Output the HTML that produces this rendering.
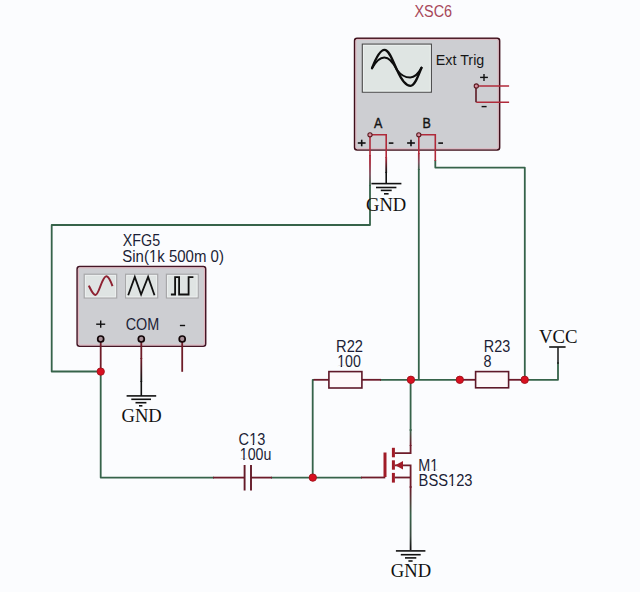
<!DOCTYPE html>
<html><head><meta charset="utf-8">
<style>
html,body{margin:0;padding:0;background:#fbfcfe;}
body{width:640px;height:592px;overflow:hidden;}
svg{display:block;}
.sans{font-family:"Liberation Sans",sans-serif;}
.serif{font-family:"Liberation Serif",serif;}
</style></head><body>
<svg width="640" height="592" viewBox="0 0 640 592">
<rect x="0" y="0" width="640" height="592" fill="#fbfcfe"/>

<defs>
  <linearGradient id="gA" gradientUnits="userSpaceOnUse" x1="0" y1="162" x2="0" y2="186">
    <stop offset="0" stop-color="#a8283a"/><stop offset="0.5" stop-color="#805060"/><stop offset="1" stop-color="#36634a"/>
  </linearGradient>
  <linearGradient id="gB" gradientUnits="userSpaceOnUse" x1="0" y1="154" x2="0" y2="170">
    <stop offset="0" stop-color="#a8283a"/><stop offset="0.5" stop-color="#805060"/><stop offset="1" stop-color="#36634a"/>
  </linearGradient>
  <linearGradient id="gAm" gradientUnits="userSpaceOnUse" x1="0" y1="158" x2="0" y2="172">
    <stop offset="0" stop-color="#a8283a"/><stop offset="1" stop-color="#151515"/>
  </linearGradient>
  <linearGradient id="gCOM" gradientUnits="userSpaceOnUse" x1="0" y1="360" x2="0" y2="380">
    <stop offset="0" stop-color="#6e1c28"/><stop offset="1" stop-color="#151515"/>
  </linearGradient>
  <linearGradient id="gD" gradientUnits="userSpaceOnUse" x1="0" y1="430" x2="0" y2="445">
    <stop offset="0" stop-color="#36634a"/><stop offset="1" stop-color="#6c1b2a"/>
  </linearGradient>
  <linearGradient id="gS" gradientUnits="userSpaceOnUse" x1="0" y1="488" x2="0" y2="548">
    <stop offset="0" stop-color="#6c1b2a"/><stop offset="0.45" stop-color="#36634a"/><stop offset="0.8" stop-color="#3a4a40"/><stop offset="1" stop-color="#151515"/>
  </linearGradient>
</defs>
<!-- ============ WIRES (green) ============ -->
<g fill="none" stroke="#36634a" stroke-width="1.8" stroke-linejoin="round">
  <polyline points="370,185 370,225 51.7,225 51.7,371.5 97,371.5"/>
  <polyline points="100.7,375 100.7,477.6 214,477.6"/>
  <polyline points="418.8,169 418.8,380"/>
  <polyline points="435.3,160 435.3,167.6 524.8,167.6 524.8,380"/>
  <polyline points="380,379.8 460,379.8"/>
  <polyline points="520,379.8 558,379.8 558,362"/>
  <polyline points="314,379.8 312.7,379.8 312.7,477.6"/>
  <polyline points="271,477.6 362,477.6"/>
  
  <polyline points="410.6,380 410.6,431"/>
</g>
<line x1="370" y1="155" x2="370" y2="186" stroke="url(#gA)" stroke-width="1.8"/>
<line x1="418.8" y1="153" x2="418.8" y2="170" stroke="url(#gB)" stroke-width="1.8"/>
<line x1="386.2" y1="157" x2="386.2" y2="173" stroke="url(#gAm)" stroke-width="1.8"/>
<line x1="410.6" y1="429" x2="410.6" y2="446" stroke="url(#gD)" stroke-width="1.8"/>
<line x1="410.6" y1="486" x2="410.6" y2="550" stroke="url(#gS)" stroke-width="1.8"/>
<line x1="141.3" y1="358" x2="141.3" y2="382" stroke="url(#gCOM)" stroke-width="1.8"/>

<!-- ============ RED/brown leads ============ -->
<g fill="none" stroke="#6c1b2a" stroke-width="1.8">
  <polyline points="313.6,379.8 328.9,379.8"/>
  <polyline points="460,379.8 475.8,379.8"/>
  <polyline points="361.9,379.8 381,379.8"/>
  <polyline points="508.6,379.8 521,379.8"/>
  <polyline points="213,477.6 244.6,477.6"/>
  <polyline points="251,477.6 272,477.6"/>
</g>
<g fill="none" stroke="#6e1c2a" stroke-width="1.8">
  <polyline points="410.6,445 410.6,453.1 394.7,453.1"/>
  <polyline points="394.7,465.3 410.6,465.3 410.6,488"/>
  <polyline points="394.7,477.5 410.6,477.5"/>
  <polyline points="361,477.5 385.3,477.5"/>
</g>

<!-- ============ XSC6 Oscilloscope ============ -->
<text x="414.4" y="0" class="sans" font-size="14.45" fill="#a8485a" transform="translate(0,16.8) scale(1,1.09)">XSC6</text>
<rect x="354.6" y="38.2" width="145" height="111.8" rx="2.5" fill="#cdced2" stroke="#3e0e1a" stroke-width="1.6"/>
<rect x="355.9" y="39.4" width="142.2" height="109.4" rx="1.5" fill="none" stroke="#e2b4be" stroke-width="1"/>
<rect x="362.3" y="44.1" width="69.1" height="48.1" fill="#dfe5e3" stroke="#4a4a4a" stroke-width="1.1"/>
<rect x="363.5" y="45.3" width="66.7" height="45.7" fill="none" stroke="#eef2f1" stroke-width="0.8"/>
<!-- sine on screen -->
<path d="M372,68.2 C375.5,59 379.5,49.8 384.5,49.8 C389,49.8 392.5,60 397,70 C401,79 405,85.8 410.5,85.8 C415,85.8 419,74 421.5,67.8" fill="none" stroke="#0d0d0d" stroke-width="2.3" stroke-linecap="round" stroke-linejoin="round"/>
<path d="M372,68.2 C375.5,62 379.5,57.5 384.3,57.5 C389,57.5 393,62 397,70 C401,75.5 405,77.5 410.2,77.5 C415,77.5 419,72.5 421.5,67.8" fill="none" stroke="#0d0d0d" stroke-width="2.1" stroke-linecap="round" stroke-linejoin="round"/>
<text x="435.8" y="64.8" class="sans" font-size="14.3" fill="#161616">Ext Trig</text>
<g stroke="#111" stroke-width="1.4" fill="none">
  <line x1="480.1" y1="77.4" x2="487.9" y2="77.4"/><line x1="484" y1="74.1" x2="484" y2="80.9"/>
  <line x1="481.6" y1="106.6" x2="486.6" y2="106.6"/>
</g>
<!-- ext trig leads -->
<g fill="none" stroke="#b02a3a" stroke-width="1.6">
  <polyline points="476.3,86 509.1,86"/>
  <polyline points="476.3,102.3 509.1,102.3"/>
  <polyline points="476,86 476,102.3" stroke="#5a1a24"/>
</g>
<circle cx="476.3" cy="86" r="2.1" fill="#d890a0" stroke="#5a1a20" stroke-width="1.1"/>

<text x="373.9" y="0" transform="translate(0,127.6) scale(1,1.1)" class="sans" font-size="12.5" fill="#141414" stroke="#141414" stroke-width="0.35">A</text>
<text x="422.6" y="0" transform="translate(0,127.6) scale(1,1.1)" class="sans" font-size="12.5" fill="#141414" stroke="#141414" stroke-width="0.35">B</text>
<g stroke="#111" stroke-width="1.6" fill="none">
  <line x1="357.8" y1="143" x2="365.6" y2="143"/><line x1="361.7" y1="139.7" x2="361.7" y2="146.3"/>
  <line x1="388.8" y1="143.1" x2="393.4" y2="143.1"/>
  <line x1="407.1" y1="143" x2="414.9" y2="143"/><line x1="411" y1="139.7" x2="411" y2="146.3"/>
  <line x1="438.3" y1="143.1" x2="443" y2="143.1"/>
</g>
<g fill="none" stroke="#b02a3a" stroke-width="1.6">
  <polyline points="370,134.8 370,156"/>
  <polyline points="370,134.8 386.2,134.8 386.2,158"/>
  <polyline points="418.8,134.8 418.8,154"/>
  <polyline points="418.8,134.8 435.3,134.8 435.3,161"/>
</g>
<circle cx="370" cy="134.8" r="2.1" fill="#d890a0" stroke="#5a1a20" stroke-width="1.1"/>
<circle cx="418.8" cy="134.8" r="2.1" fill="#d890a0" stroke="#5a1a20" stroke-width="1.1"/>

<!-- GND under scope -->
<g fill="none" stroke="#111" stroke-width="1.6">
  <line x1="386.2" y1="172" x2="386.2" y2="183.6"/>
  <line x1="371.4" y1="183.6" x2="401.4" y2="183.6"/>
  <line x1="376" y1="187.5" x2="396.4" y2="187.5"/>
  <line x1="380.8" y1="190.4" x2="391.7" y2="190.4"/>
  <line x1="384" y1="193.8" x2="388.6" y2="193.8"/>
</g>
<text x="366" y="210.6" class="serif" font-size="18.6" fill="#111">GND</text>

<!-- ============ XFG5 function generator ============ -->
<text x="122.8" y="0" transform="translate(0,245.7) scale(1,1.1)" class="sans" font-size="14.3" fill="#1c1e36">XFG5</text>
<text x="122.3" y="0" transform="translate(0,261.5) scale(1,1.1)" class="sans" font-size="15.0" fill="#1c1e36">Sin(1k 500m 0)</text>
<rect x="77.1" y="266.5" width="128.6" height="79.8" rx="2.5" fill="#cdced2" stroke="#441626" stroke-width="1.5"/>
<rect x="78.4" y="267.8" width="126" height="77.2" rx="1.5" fill="none" stroke="#e2b4be" stroke-width="1"/>
<g fill="#dfe4e3" stroke="#a8a8aa" stroke-width="1.2">
<rect x="84.2" y="274.2" width="32.5" height="23.8"/>
<rect x="125.6" y="274.2" width="32.1" height="23.8"/>
<rect x="166.4" y="274.2" width="31.8" height="23.8"/>
</g>
<g fill="none" stroke="#eef1f1" stroke-width="0.8">
<rect x="85.4" y="275.4" width="30.1" height="21.4"/>
<rect x="126.8" y="275.4" width="29.7" height="21.4"/>
<rect x="167.6" y="275.4" width="29.4" height="21.4"/>
</g>
<path d="M88.8,285.6 C91,290 93,295 95.5,295 C99,295 102,276 106.5,276.3 C109,276.5 111,282 112.5,286.2" fill="none" stroke="#8e2232" stroke-width="2"/>
<polyline points="128.2,295.2 134.8,276.9 141.1,294.5 148.1,276.9 154.5,295.2" fill="none" stroke="#111" stroke-width="1.8"/>
<polyline points="170.9,294.5 175.1,294.5 175.1,277.2 179.1,277.2 179.1,294.5 188.6,294.5 188.6,277.2 193.4,277.2" fill="none" stroke="#111" stroke-width="1.8"/>
<g stroke="#111" stroke-width="1.4"><line x1="96.2" y1="324.2" x2="105.2" y2="324.2"/><line x1="100.7" y1="320.5" x2="100.7" y2="327.8"/><line x1="179.9" y1="325.5" x2="185.1" y2="325.5"/></g>
<text x="125.7" y="0" transform="translate(0,330.3) scale(1,1.1)" class="sans" font-size="14.4" fill="#1c1e36">COM</text>

<g fill="none" stroke="#6e1c28" stroke-width="1.8">
  <line x1="100.7" y1="339" x2="100.7" y2="371"/>
  <line x1="141.3" y1="339" x2="141.3" y2="359"/>
  <line x1="182.2" y1="339" x2="182.2" y2="371.8"/>
</g>
<circle cx="100.7" cy="339" r="3" fill="#a89098" stroke="#120608" stroke-width="1.7"/>
<circle cx="141.3" cy="339" r="3" fill="#a89098" stroke="#120608" stroke-width="1.7"/>
<circle cx="182.2" cy="339" r="3" fill="#a89098" stroke="#120608" stroke-width="1.7"/>
<circle cx="100.7" cy="371.6" r="3.7" fill="#d81020" stroke="#a0101a" stroke-width="0.9"/>

<!-- GND under COM -->
<g fill="none" stroke="#111" stroke-width="1.6">
  <line x1="141.3" y1="381" x2="141.3" y2="396"/>
  <line x1="126.6" y1="395.9" x2="156.2" y2="395.9"/>
  <line x1="131.3" y1="399.3" x2="151" y2="399.3"/>
  <line x1="135.5" y1="402.7" x2="146.4" y2="402.7"/>
  <line x1="139" y1="405.8" x2="142.4" y2="405.8"/>
</g>
<text x="121.5" y="422.2" class="serif" font-size="18.6" fill="#111">GND</text>

<!-- ============ R22 ============ -->
<text x="336.1" y="0" transform="translate(0,352.0) scale(1,1.1)" class="sans" font-size="14.7" fill="#1c1e36">R22</text>
<text x="337.2" y="0" transform="translate(0,366.9) scale(1,1.1)" class="sans" font-size="14.2" fill="#1c1e36">100</text>
<rect x="328.9" y="371.6" width="33" height="16.4" fill="#fdf8f9" stroke="#5e1828" stroke-width="1.6"/>

<!-- ============ R23 ============ -->
<text x="483.75" y="0" transform="translate(0,352.0) scale(1,1.1)" class="sans" font-size="14.4" fill="#1c1e36">R23</text>
<text x="483.4" y="0" transform="translate(0,366.9) scale(1,1.1)" class="sans" font-size="14.4" fill="#1c1e36">8</text>
<rect x="475.6" y="371.6" width="33" height="16.2" fill="#fdf8f9" stroke="#5e1828" stroke-width="1.6"/>

<!-- VCC -->
<line x1="549.2" y1="347" x2="565.6" y2="347" stroke="#111" stroke-width="1.6"/>
<line x1="558" y1="347" x2="558" y2="364" stroke="#222" stroke-width="1.6"/>
<text x="539" y="343.4" class="serif" font-size="18.8" fill="#111">VCC</text>

<!-- junctions -->
<g fill="#d81020" stroke="#a0101a" stroke-width="0.9">
  <circle cx="410.9" cy="379.8" r="3.7"/>
  <circle cx="459.8" cy="379.8" r="3.7"/>
  <circle cx="524.7" cy="379.8" r="3.7"/>
  <circle cx="312.8" cy="477.6" r="3.7"/>
</g>

<!-- ============ C13 ============ -->
<text x="238.6" y="0" transform="translate(0,444.7) scale(1,1.1)" class="sans" font-size="14.6" fill="#1c1e36">C13</text>
<text x="239.8" y="0" transform="translate(0,460.1) scale(1,1.1)" class="sans" font-size="14.2" fill="#1c1e36">100u</text>
<g stroke="#641a28" stroke-width="1.9">
  <line x1="244.6" y1="465" x2="244.6" y2="490.5"/>
  <line x1="251" y1="465" x2="251" y2="490.5"/>
</g>

<!-- ============ M1 MOSFET ============ -->
<g stroke="#a01c28" stroke-width="3" fill="none">
  <line x1="385" y1="452.5" x2="385" y2="477"/>
  <line x1="393.4" y1="447.8" x2="393.4" y2="457.3"/>
  <line x1="393.4" y1="460.3" x2="393.4" y2="469.7"/>
  <line x1="393.4" y1="472.9" x2="393.4" y2="482.6"/>
</g>
<polygon points="395.2,465.3 403,461 403,469.6" fill="#a01c28"/>
<text x="418.3" y="0" transform="translate(0,470.9) scale(1,1.1)" class="sans" font-size="14.4" fill="#1c1e36">M1</text>
<text x="418.6" y="0" transform="translate(0,486.0) scale(1,1.1)" class="sans" font-size="14.7" fill="#1c1e36">BSS123</text>

<!-- GND under M1 -->
<g fill="none" stroke="#111" stroke-width="1.6">
  
  <line x1="395.9" y1="550.9" x2="425.4" y2="550.9"/>
  <line x1="400.8" y1="554.7" x2="420.7" y2="554.7"/>
  <line x1="405" y1="557.9" x2="416.3" y2="557.9"/>
  <line x1="408.4" y1="561" x2="412.6" y2="561"/>
</g>
<text x="390.8" y="577.4" class="serif" font-size="18.6" fill="#111">GND</text>
<!-- hide foot of "1" glyphs (target font has footless 1) -->
<g fill="#fbfcfe">
<g transform="translate(0,261.5) scale(1,1.1)"><rect x="149.24" y="-1.43" width="3.36" height="2.73"/><rect x="154.14" y="-1.43" width="3.19" height="2.73"/></g>
<g transform="translate(0,366.9) scale(1,1.1)"><rect x="337.48" y="-1.35" width="3.18" height="2.65"/><rect x="342.13" y="-1.35" width="3.02" height="2.65"/></g>
<g transform="translate(0,444.7) scale(1,1.1)"><rect x="249.42" y="-1.39" width="3.27" height="2.69"/><rect x="254.19" y="-1.39" width="3.11" height="2.69"/></g>
<g transform="translate(0,460.1) scale(1,1.1)"><rect x="240.08" y="-1.35" width="3.18" height="2.65"/><rect x="244.73" y="-1.35" width="3.02" height="2.65"/></g>
<g transform="translate(0,470.9) scale(1,1.1)"><rect x="430.57" y="-1.37" width="3.23" height="2.67"/><rect x="435.28" y="-1.37" width="3.07" height="2.67"/></g>
<g transform="translate(0,486.0) scale(1,1.1)"><rect x="448.26" y="-1.40" width="3.29" height="2.70"/><rect x="453.07" y="-1.40" width="3.13" height="2.70"/></g>
</g>
</svg>
</body></html>
